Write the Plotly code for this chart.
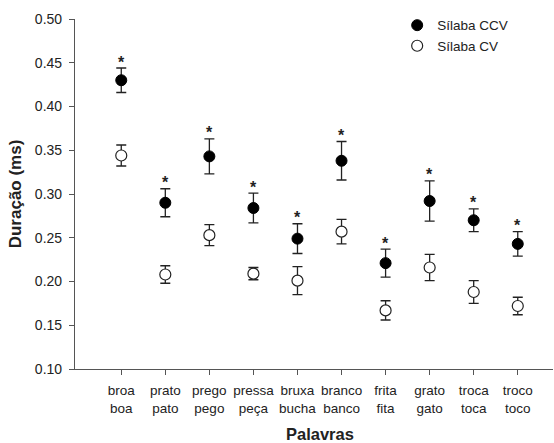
import plotly.graph_objects as go

categories = ["broa<br>boa", "prato<br>pato", "prego<br>pego", "pressa<br>peça", "bruxa<br>bucha",
              "branco<br>banco", "frita<br>fita", "grato<br>gato", "troca<br>toca", "troco<br>toco"]
ccv_mean = [0.430, 0.290, 0.343, 0.284, 0.249, 0.338, 0.221, 0.292, 0.270, 0.243]
ccv_err = [0.014, 0.016, 0.020, 0.017, 0.017, 0.022, 0.016, 0.023, 0.013, 0.014]
cv_mean = [0.344, 0.208, 0.253, 0.209, 0.201, 0.257, 0.167, 0.216, 0.188, 0.172]
cv_err = [0.012, 0.010, 0.012, 0.007, 0.016, 0.014, 0.011, 0.015, 0.013, 0.010]
y_ticks = [0.10, 0.15, 0.20, 0.25, 0.30, 0.35, 0.40, 0.45, 0.50]

FONT = "Liberation Sans, Arial, sans-serif"
TXT = "#222222"
AX = "#555555"

fig = go.Figure()
fig.add_trace(go.Scatter(
    x=categories, y=ccv_mean, mode="markers", name="Sílaba CCV",
    marker=dict(symbol="circle", size=11, color="black", line=dict(color="black", width=1)),
    error_y=dict(type="data", array=ccv_err, visible=True, color="#222222", thickness=1.3, width=5),
))
fig.add_trace(go.Scatter(
    x=categories, y=cv_mean, mode="markers", name="Sílaba CV",
    marker=dict(symbol="circle", size=11, color="white", line=dict(color="#222222", width=1.2)),
    error_y=dict(type="data", array=cv_err, visible=True, color="#222222", thickness=1.3, width=5),
))

annotations = []
for c, m, e in zip(categories, ccv_mean, ccv_err):
    annotations.append(dict(x=c, y=m + e, xref="x", yref="y", text="<b>*</b>", showarrow=False,
                            yshift=6, font=dict(family=FONT, size=16, color=TXT)))
annotations.append(dict(x=0.5126, y=-0.186, xref="paper", yref="paper", text="<b>Palavras</b>",
                        showarrow=False, xanchor="center", yanchor="middle",
                        font=dict(family=FONT, size=16.5, color=TXT)))

fig.update_layout(
    width=554, height=443,
    margin=dict(l=75, r=1, t=19, b=74, autoexpand=False),
    paper_bgcolor="white", plot_bgcolor="white",
    font=dict(family=FONT, size=13.5, color=TXT),
    showlegend=True,
    legend=dict(x=0.674, y=1.026, xanchor="left", yanchor="top", bgcolor="rgba(0,0,0,0)",
                font=dict(family=FONT, size=13.5, color=TXT), tracegroupgap=0, itemwidth=30),
    annotations=annotations,
    xaxis=dict(
        type="category", range=[-1.05, 9.8], showline=True, linecolor=AX, linewidth=1.2,
        ticks="outside", ticklen=5, tickcolor=AX, showgrid=False, zeroline=False,
        ticklabelstandoff=4,
        tickfont=dict(family=FONT, size=13.5, color=TXT),
    ),
    yaxis=dict(
        range=[0.10, 0.50], tickvals=y_ticks, tickformat=".2f", showline=True, linecolor=AX,
        linewidth=1.2, ticks="outside", ticklen=5, tickcolor=AX, showgrid=False, zeroline=False,
        ticklabelstandoff=4,
        tickfont=dict(family=FONT, size=14, color=TXT),
        title=dict(text="<b>Duração (ms)</b>", font=dict(family=FONT, size=17, color=TXT), standoff=8),
    ),
)

fig.write_html("out.html", config={"displayModeBar": False},
               post_script="document.body.style.margin='0';")
